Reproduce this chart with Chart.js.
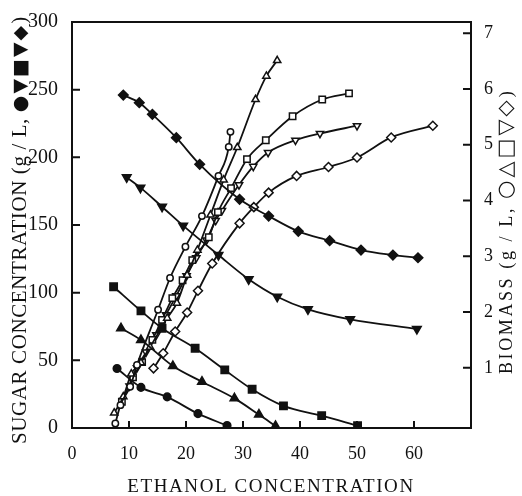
<!DOCTYPE html>
<html>
<head>
<meta charset="utf-8">
<script src="https://cdn.jsdelivr.net/npm/chart.js@4.4.0/dist/chart.umd.min.js"></script>
<style>
  html, body { margin: 0; padding: 0; background: #fff; }
  canvas { display: block; }
</style>
</head>
<body>
<canvas id="ethanolChart" width="522" height="496"></canvas>
<script>
// tick labels
const ethanolTicks = [0, 10, 20, 30, 40, 50, 60];
const sugarTicks = [0, 50, 100, 150, 200, 250, 300];
const biomassTicks = [1, 2, 3, 4, 5, 6, 7];

// sugar (g/L) against ethanol, filled markers
const dotEthanol = [7.9, 12.1, 16.7, 22.1, 27.2];
const dotSugar = [44, 30, 23, 10.6, 1.8];
const triEthanol = [8.6, 12.1, 17.7, 22.8, 28.5, 32.8, 35.7];
const triSugar = [73.7, 65, 45.8, 34.2, 21.9, 9.9, 1.5];
const squareEthanol = [7.3, 12.1, 15.8, 21.6, 26.8, 31.6, 37.1, 43.8, 50.1];
const squareSugar = [104.4, 86.5, 73.7, 58.9, 42.9, 28.6, 16.3, 9.1, 1.7];
const triDownEthanol = [9.6, 12.0, 15.8, 19.5, 25.7, 31.0, 36.0, 41.4, 48.8, 60.5];
const triDownSugar = [185.2, 177.6, 163.5, 149.5, 127.8, 109.9, 97.0, 87.7, 80.3, 73.2];
const diamondEthanol = [9.0, 11.8, 14.1, 18.3, 22.4, 29.4, 34.5, 39.7, 45.2, 50.7, 56.3, 60.7];
const diamondSugar = [246, 240.4, 231.8, 214.5, 194.8, 169, 156.6, 145.3, 138.4, 131.5, 127.8, 125.8];

// biomass (g/L) against ethanol, open markers
const openDotEthanol = [7.6, 8.5, 10.2, 11.4, 15.1, 17.2, 19.9, 22.8, 25.7, 27.5, 27.8];
const openDotBiomass = [0.0, 0.33, 0.66, 1.05, 2.04, 2.61, 3.17, 3.72, 4.44, 4.96, 5.23];
const openTriEthanol = [7.4, 9.0, 10.4, 12.1, 13.7, 16.7, 18.4, 20.2, 22.0, 24.3, 26.6, 29.0, 32.2, 34.1, 36.0];
const openTriBiomass = [0.19, 0.48, 0.89, 1.09, 1.37, 1.89, 2.16, 2.66, 3.11, 3.74, 4.37, 4.95, 5.81, 6.23, 6.51];
const openSquareEthanol = [8.75, 10.7, 12.3, 14.1, 15.8, 17.6, 19.4, 21.1, 24.0, 25.6, 27.9, 30.7, 34.0, 38.7, 43.9, 48.6];
const openSquareBiomass = [0.39, 0.83, 1.10, 1.50, 1.86, 2.25, 2.57, 2.93, 3.34, 3.79, 4.22, 4.74, 5.08, 5.51, 5.81, 5.92];
const openTriDownEthanol = [10.1, 11.4, 13.0, 14.8, 16.5, 18.3, 20.1, 21.8, 23.6, 25.2, 26.3, 29.3, 31.8, 34.4, 39.2, 43.5, 50.0];
const openTriDownBiomass = [0.67, 1.00, 1.28, 1.59, 1.95, 2.29, 2.65, 2.97, 3.29, 3.64, 3.82, 4.28, 4.61, 4.86, 5.08, 5.20, 5.34];
const openDiamondEthanol = [14.3, 16.0, 18.1, 20.2, 22.1, 24.6, 29.4, 31.9, 34.5, 39.4, 45.0, 50.0, 56.0, 63.3];
const openDiamondBiomass = [0.99, 1.26, 1.65, 1.99, 2.38, 2.87, 3.59, 3.88, 4.14, 4.44, 4.60, 4.77, 5.13, 5.34];

const INK = "#111";
const SERIF = "'Liberation Serif', 'Times New Roman', serif";

function series(xs, ys, axis, style, radius, rotation, filled) {
    return {
        data: xs.map((x, i) => ({ x, y: ys[i] })),
        yAxisID: axis,
        showLine: true,
        cubicInterpolationMode: "monotone",
        borderColor: INK,
        borderWidth: 1.8,
        pointStyle: style,
        pointRadius: radius,
        pointRotation: rotation,
        pointBorderWidth: 1.5,
        pointBorderColor: INK,
        pointBackgroundColor: filled ? INK : "#fff"
    };
}

// frame, inward tick marks and the rotated axis titles
const framePlugin = {
    id: "frame",
    afterDraw(chart) {
        const { ctx, chartArea: a, scales } = chart;
        ctx.save();
        ctx.strokeStyle = INK;
        ctx.lineWidth = 2;
        ctx.strokeRect(a.left, a.top, a.right - a.left, a.bottom - a.top);

        ctx.beginPath();
        ethanolTicks.filter(v => v > 0).forEach(v => {
            const px = scales.x.getPixelForValue(v);
            ctx.moveTo(px, a.bottom);
            ctx.lineTo(px, a.bottom - 7);
        });
        sugarTicks.filter(v => v > 0 && v < 300).forEach(v => {
            const py = scales.sugar.getPixelForValue(v);
            ctx.moveTo(a.left, py);
            ctx.lineTo(a.left + 8, py);
        });
        biomassTicks.forEach(v => {
            const py = scales.biomass.getPixelForValue(v);
            ctx.moveTo(a.right, py);
            ctx.lineTo(a.right - 8, py);
        });
        ctx.stroke();

        ctx.fillStyle = INK;
        ctx.textBaseline = "alphabetic";

        ctx.font = "19px " + SERIF;
        ctx.letterSpacing = "1.6px";
        ctx.textAlign = "center";
        ctx.fillText("ETHANOL CONCENTRATION", 271, 492);

        ctx.textAlign = "left";
        drawUp(ctx, 26, 444, [
            ["SUGAR CONCENTRATION (g / L, ", "21px " + SERIF, "0.6px"],
            ["●▼■▼◆", "19px 'DejaVu Sans'", "2px"],
            [")", "21px " + SERIF, "0px"]
        ]);
        drawUp(ctx, 512, 374, [
            ["BIOMASS (g / L, ", "18px " + SERIF, "2.6px"],
            ["○△□▽◇", "21px 'DejaVu Sans'", "3px"],
            [")", "18px " + SERIF, "0px"]
        ]);
        ctx.restore();
    }
};

// text reading bottom to top, started at (x, y0)
function drawUp(ctx, x, y0, parts) {
    ctx.save();
    ctx.translate(x, y0);
    ctx.rotate(-Math.PI / 2);
    let pos = 0;
    parts.forEach(([text, font, spacing]) => {
        ctx.font = font;
        ctx.letterSpacing = spacing;
        ctx.fillText(text, pos, 0);
        pos += ctx.measureText(text).width;
    });
    ctx.restore();
}

new Chart(document.getElementById("ethanolChart"), {
    type: "scatter",
    data: {
        datasets: [
            series(dotEthanol, dotSugar, "sugar", "circle", 3.8, 0, true),
            series(triEthanol, triSugar, "sugar", "triangle", 5, 0, true),
            series(squareEthanol, squareSugar, "sugar", "rect", 5.2, 0, true),
            series(triDownEthanol, triDownSugar, "sugar", "triangle", 5, 180, true),
            series(diamondEthanol, diamondSugar, "sugar", "rectRot", 4.8, 0, true),
            series(openDotEthanol, openDotBiomass, "biomass", "circle", 3.2, 0, false),
            series(openTriEthanol, openTriBiomass, "biomass", "triangle", 4.2, 0, false),
            series(openSquareEthanol, openSquareBiomass, "biomass", "rect", 4.5, 0, false),
            series(openTriDownEthanol, openTriDownBiomass, "biomass", "triangle", 4.2, 180, false),
            series(openDiamondEthanol, openDiamondBiomass, "biomass", "rectRot", 4.5, 0, false)
        ]
    },
    options: {
        responsive: false,
        animation: false,
        devicePixelRatio: 1,
        layout: { padding: { top: 22, left: 0, right: 0, bottom: 0 } },
        plugins: { legend: { display: false }, tooltip: { enabled: false } },
        scales: {
            x: {
                type: "linear",
                min: 0,
                max: 70,
                grid: { display: false },
                border: { display: false },
                afterBuildTicks: s => { s.ticks = ethanolTicks.map(value => ({ value })); },
                afterFit: s => { s.height = 68; },
                ticks: { color: INK, padding: 7, maxRotation: 0, font: { family: SERIF, size: 18 } }
            },
            sugar: {
                type: "linear",
                position: "left",
                min: 0,
                max: 300,
                grid: { display: false },
                border: { display: false },
                afterBuildTicks: s => { s.ticks = sugarTicks.map(value => ({ value })); },
                afterFit: s => { s.width = 72; },
                ticks: { color: INK, padding: 6, font: { family: SERIF, size: 20 } }
            },
            biomass: {
                type: "linear",
                position: "right",
                min: -0.08,
                max: 7.2,
                grid: { display: false },
                border: { display: false },
                afterBuildTicks: s => { s.ticks = biomassTicks.map(value => ({ value })); },
                afterFit: s => { s.width = 51; },
                ticks: { color: INK, padding: 5, font: { family: SERIF, size: 18 } }
            }
        }
    },
    plugins: [framePlugin]
});
</script>
</body>
</html>
